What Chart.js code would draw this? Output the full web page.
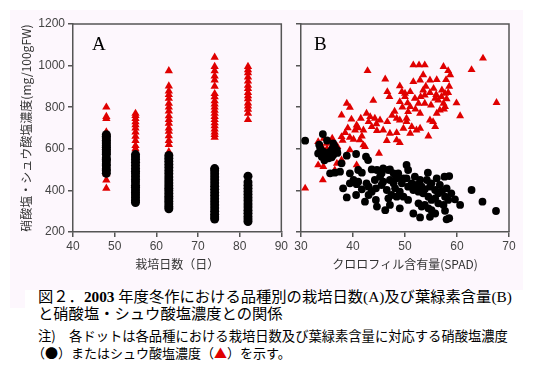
<!DOCTYPE html>
<html><head><meta charset="utf-8">
<script src="https://cdn.jsdelivr.net/npm/chart.js@4"></script>
<style>
body{margin:0;background:#fff;width:542px;height:371px;overflow:hidden;position:relative;font-family:"Noto Sans CJK JP",sans-serif;}
#bg{position:absolute;left:10px;top:10px;width:513px;height:280px;background:#fdf7fd;}
#bg2{position:absolute;left:10px;top:290px;width:15px;height:18px;background:#fdf7fd;}
canvas{position:absolute;top:0;}
#ca{left:0;}
#cb{left:290px;}
.lt{position:absolute;font-family:"Liberation Serif",serif;font-size:19px;color:#000;line-height:1;}
.cap{position:absolute;white-space:nowrap;color:#000;line-height:1;font-family:"Liberation Serif","Noto Sans CJK JP",serif;}
.cap2{position:absolute;white-space:nowrap;color:#000;line-height:1;font-family:"Noto Sans CJK JP",sans-serif;}
</style></head>
<body>
<div id="bg"></div><div id="bg2"></div>
<canvas id="ca" width="290" height="280"></canvas>
<canvas id="cb" width="252" height="280"></canvas>
<div class="lt" style="left:92px;top:34px;">A</div>
<div class="lt" style="left:314px;top:34px;">B</div>
<div class="cap" style="left:38px;top:289px;font-size:15.3px;">図２．<b>2003</b> 年度冬作における品種別の栽培日数(A)及び葉緑素含量(B)</div>
<div class="cap" style="left:38px;top:306px;font-size:15.3px;">と硝酸塩・シュウ酸塩濃度との関係</div>
<div class="cap2" style="left:38px;top:329px;font-size:13.3px;">注)　各ドットは各品種における栽培日数及び葉緑素含量に対応する硝酸塩濃度</div>
<div class="cap2" style="left:32px;top:346px;font-size:13px;">（●）またはシュウ酸塩濃度（<span style="color:#e00000">▲</span>）を示す。</div>
<script>
// ---- Panel A: cultivation days vs concentration ----
const days = [48, 55, 63, 74, 82];
const nitrateA48 = [482,495,503,518,527,541,548,556,572,580,589,598,607,615,624,633,641,652,660,668];
const nitrateA55 = [342,352,365,378,390,402,415,425,440,452,466,480,492,505,520,535,548,560,572];
const nitrateA63 = [312,322,335,348,360,372,385,398,410,422,436,450,465,480,495,510,525,540,555,568];
const nitrateA74 = [262,272,285,300,315,330,345,360,375,390,405,420,435,450,465,480,495,505];
const nitrateA82 = [250,262,275,290,305,320,335,350,365,380,395,410,425,440,468];
const oxalateA48 = [410,450,480,520,545,560,600,640,680,745,755,800];
const oxalateA55 = [500,545,600,615,640,660,680,700,715,730,745,760,770];
const oxalateA63 = [585,620,640,662,684,700,722,740,758,781,800,818,842,860,878,902,975];
const oxalateA74 = [655,668,680,695,710,725,740,755,770,785,800,815,830,850,865,900,930,950,975,995,1040];
const oxalateA82 = [740,770,790,805,820,840,855,870,890,905,925,945,965,980,995];
const nitrateA = [nitrateA48, nitrateA55, nitrateA63, nitrateA74, nitrateA82];
const oxalateA = [oxalateA48, oxalateA55, oxalateA63, oxalateA74, oxalateA82];

// ---- Panel B: SPAD vs concentration ([SPAD, mg/100gFW]) ----
const oxalateB = [[65.0,1035],[62.8,980],[67.6,822],[60.6,758],[59.9,820],[30.8,410],
[51.6,1003],[52.7,1003],[53.8,1003],[57.4,995],[58.3,975],[58.7,955],[53.5,955],[52.9,930],[54.8,930],[56.1,932],[57.9,932],[51.6,922],
[42.8,975],[46.2,935],[49.0,902],[46.6,874],[47.0,850],[49.4,874],[49.0,826],[50.0,850],
[38.8,818],[39.4,799],[43.9,832],[37.8,762],
[39.7,742],[41.5,746],[42.6,770],[43.3,754],[44.2,746],[45.2,738],[46.6,730],[48.4,746],[49.0,738],[50.3,746],
[40.7,714],[40.4,690],[42.0,690],[43.6,706],[44.6,687],[45.8,690],[47.1,674],[48.4,677],[49.7,698],
[38.5,677],[37.8,658],[39.4,655],[40.1,645],[41.7,661],[41.3,642],[46.5,639],[48.4,642],[49.0,629],
[50.0,866],[51.0,874],[51.9,842],[53.5,882],[53.8,858],[54.8,870],[55.8,842],[57.1,882],[57.7,866],[58.3,870],
[51.0,802],[50.6,778],[52.6,818],[53.8,818],[56.4,834],[57.4,818],[57.7,802],[52.9,770],[56.7,786],[56.1,770],
[50.3,730],[51.3,706],[52.2,690],[52.9,698],[54.8,738],[55.4,730],[55.8,706],[51.0,674],[54.5,661],
[34.4,650],[33.3,634],[34.0,610],[34.9,626],[36.2,602],[35.3,562],[33.3,522],[34.3,514],[36.9,530],[37.8,546],[34.2,450],[40.7,522],[36.5,498],[39.4,594],[42.3,610],[42.0,618],[45.0,578],
[54.0,900],[55.5,890],[56.0,860],[57.0,850],[58.5,900],[58.0,840],[53.0,850],[55.0,810],[57.5,790],[52.0,790],[50.5,820],[49.5,800],[48.0,780],[47.5,760],[44.5,720],[43.0,730],[41.0,700],[39.0,700],[38.0,640],[36.0,650],[35.0,600],[37.0,610]];
const nitrateB = [[30.8,639],[34.2,671],[36.2,626],[33.7,602],[34.3,586],[34.9,578],[35.6,586],[36.2,570],[36.9,594],[33.3,578],[34.0,562],[34.8,565],[35.9,559],[36.5,610],[35.3,554],
[38.8,567],[40.6,575],[42.5,562],[42.9,546],[37.8,530],[35.6,482],[36.5,485],[37.5,490],[39.4,482],[41.0,498],[41.7,485],[44.6,498],[45.5,482],[46.8,498],[47.8,482],[43.6,501],[45.8,506],[47.1,501],[48.7,482],
[50.3,522],[50.6,498],[50.3,458],[51.9,466],[52.9,450],[54.4,485],[56.1,458],[57.6,466],[58.5,469],[62.8,402],[64.9,346],[67.5,301],
[50.6,418],[51.6,402],[52.6,394],[53.5,386],[53.8,405],[54.5,370],[55.1,354],[55.8,362],[56.4,386],[57.1,394],[57.7,370],[58.3,354],[59.6,357],[60.6,330],[56.4,338],[57.4,330],[53.8,330],[54.5,314],[55.1,305],[55.8,289],[54.8,273],[51.6,289],[52.9,270],[57.7,302],[58.0,261],[58.5,266],[50.6,354],[52.6,338],[53.2,322],[49.0,314],
[38.1,410],[40.7,430],[41.7,405],[43.0,418],[43.6,394],[44.4,410],[45.5,426],[46.5,402],[48.1,410],[49.0,394],[38.8,366],[40.6,378],[42.3,346],[44.4,354],[46.8,362],[47.4,378],
[39.4,434],[40.1,450],[41.0,442],[42.6,434],[44.2,450],[45.2,466],[45.8,442],[47.1,450],[47.8,434],[48.4,458],[49.4,434],[49.7,458],[51.3,434],[52.2,426],[53.2,418],[54.8,418],[55.8,402],[56.7,426],[58.0,410],[58.9,386],[55.1,434],[54.2,450],
[48.4,370],[49.7,370],[47.1,330],[46.2,305],[44.6,322],[43.0,378],[35.0,640],[33.5,620],[36.0,600],[37.0,580],[34.5,545]];

const yTicksA = [200,400,600,800,1000,1200];
const RED = '#e00000', BLK = '#000000', AX = '#555555';

const frame = {id:'frame', afterDraw(c){const a=c.chartArea,x=c.ctx;x.save();x.strokeStyle=AX;x.lineWidth=1.5;x.beginPath();x.moveTo(a.left,a.top);x.lineTo(a.right,a.top);x.lineTo(a.right,a.bottom);x.stroke();x.restore();}};

function pts(xs, groups){const out=[];groups.forEach((g,i)=>g.forEach(v=>out.push({x:xs[i],y:v})));return out;}
function pairPts(arr){return arr.map(p=>({x:p[0],y:p[1]}));}

function makeChart(id, blackData, redData, xmin, xmax, xTitle, showY, yW, padR, rc, rt){
  const tickFont = {family:'"Liberation Sans", Arial, sans-serif', size:12};
  new Chart(document.getElementById(id), {
    type:'scatter',
    data:{datasets:[
      {data:blackData, pointStyle:'circle', pointRadius:rc, backgroundColor:BLK, borderColor:BLK, borderWidth:0, pointHoverRadius:rc},
      {data:redData, pointStyle:'triangle', pointRadius:rt, backgroundColor:RED, borderColor:RED, borderWidth:0, pointHoverRadius:rt}
    ]},
    options:{
      responsive:false, animation:false, events:[],
      layout:{padding:{left:0,right:padR,top:24,bottom:0}},
      plugins:{legend:{display:false}, tooltip:{enabled:false}},
      scales:{
        x:{type:'linear', min:xmin, max:xmax,
           ticks:{stepSize:10, color:'#444', font:tickFont, padding:2, maxRotation:0},
           grid:{display:true, drawOnChartArea:false, drawTicks:true, tickLength:5, color:AX, lineWidth:1.5},
           border:{display:true, color:AX, width:1.5},
           title:{display:true, text:xTitle, color:'#333', font:{family:'"Noto Sans CJK JP", sans-serif', size:12}, padding:{top:0,bottom:8}},
           afterFit(s){s.height=48;}},
        y:{type:'linear', min:200, max:1200,
           afterBuildTicks(s){s.ticks=yTicksA.map(v=>({value:v}));},
           ticks:{color:'#444', font:tickFont, padding:3, callback:(v)=>showY?String(v):''},
           grid:{display:true, drawOnChartArea:false, drawTicks:true, tickLength:5, color:AX, lineWidth:1.5},
           border:{display:true, color:AX, width:1.5},
           title:{display:showY, text:'硝酸塩・シュウ酸塩濃度(mg/100gFW)', color:'#333', font:{family:'"Noto Sans CJK JP", sans-serif', size:12}, padding:{top:19,bottom:0}},
           afterFit(s){s.width=yW;}}
      }
    },
    plugins:[frame]
  });
}

makeChart('ca', pts(days, nitrateA), pts(days, oxalateA), 40, 90, '栽培日数（日）', true, 73, 8, 4.5, 4.8);
makeChart('cb', pairPts(nitrateB), pairPts(oxalateB), 30, 70, 'クロロフィル含有量(SPAD)', false, 11, 33, 3.9, 4.6);
</script>
</body></html>
